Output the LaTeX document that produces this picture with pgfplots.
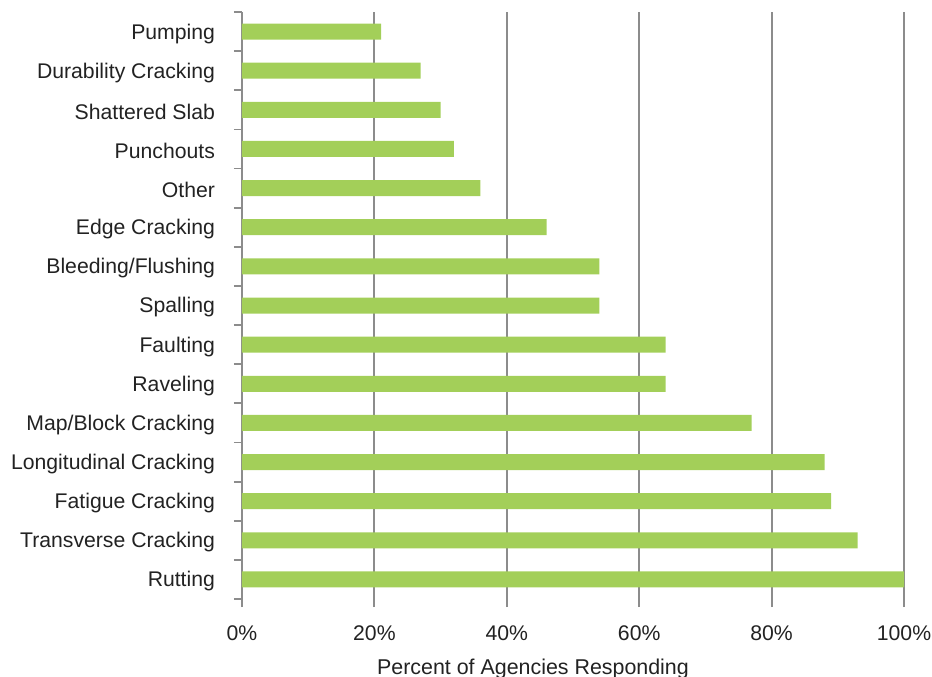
\documentclass[border=0pt]{standalone}
\usepackage{pgfplots}
\pgfplotsset{compat=1.18}
\usepackage{fontspec}
\setmainfont{Liberation Sans}
\definecolor{barg}{HTML}{A3CF59}
\definecolor{axg}{HTML}{8C8C8C}
\definecolor{txt}{HTML}{222222}
\begin{document}
\begin{tikzpicture}
\useasboundingbox (-121pt,-38.5pt) rectangle (345pt,299.5pt);
\begin{axis}[
  scale only axis,
  width=331pt, height=293.5pt,
  xmin=0, xmax=100,
  ymin=-0.5, ymax=14.5,
  xbar, bar width=8pt,
  axis lines*=left,
  x axis line style={draw=none},
  y axis line style={axg, line width=0.9pt},
  xtick={0,20,40,60,80,100},
  xticklabels={0\%,20\%,40\%,60\%,80\%,100\%},
  xmajorgrids,
  grid style={axg, line width=0.9pt},
  tick align=outside,
  major tick length=4pt,
  tick style={axg, line width=0.9pt},
  ytick={-0.5,0.5,...,14.5},
  yticklabels={},
  extra y ticks={0,...,14},
  extra y tick labels={Rutting,Transverse Cracking,Fatigue Cracking,Longitudinal Cracking,Map/Block Cracking,Raveling,Faulting,Spalling,Bleeding/Flushing,Edge Cracking,Other,Punchouts,Shattered Slab,Durability Cracking,Pumping},
  extra y tick style={major tick length=0pt, grid=none, tick style={draw=none}},
  ticklabel style={font=\fontsize{10.6}{12}\selectfont, text=txt},
  yticklabel style={xshift=-10pt, yshift=-1pt},
  xticklabel style={yshift=-6pt},
  xlabel={Percent of Agencies Responding},
  xlabel style={font=\fontsize{10.7}{12}\selectfont, text=txt, yshift=-2pt, xshift=-20pt},
  /pgf/number format/assume math mode=true,
  clip=false,
]
\addplot[fill=barg, draw=none] coordinates {
(100,0) (93,1) (89,2) (88,3) (77,4) (64,5) (64,6) (54,7) (54,8) (46,9) (36,10) (32,11) (30,12) (27,13) (21,14)
};
\end{axis}
\end{tikzpicture}
\end{document}
